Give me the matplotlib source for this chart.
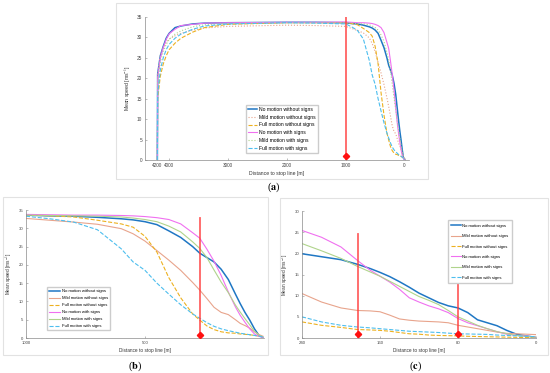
import numpy as np
import matplotlib
matplotlib.use('Agg')
import matplotlib.pyplot as plt
from matplotlib.patches import Rectangle

plt.rcParams['font.family'] = ['Liberation Sans', 'DejaVu Sans']
plt.rcParams['mathtext.fontset'] = 'stix'

# series names and styles
names = ['No motion without signs', 'Mild motion without signs', 'Full motion without signs',
         'No motion with signs', 'Mild motion with signs', 'Full motion with signs']
colors = ['#1f77c4', '#e8a48c', '#edb120', '#f070f0', '#b0d48c', '#4dbeee']

# (a) approach part, 4200 m -> 1500 m
a_dist = [4200, 4195, 4150, 4100, 4050, 4000, 3900, 3800, 3600, 3400, 3000, 2000, 1500]
a_blue = [0, 21, 25.5, 27.8, 29.8, 31.0, 32.4, 32.8, 33.3, 33.5, 33.6, 33.7, 33.7]
a_salmon = [0, 21, 25.5, 27.5, 28.7, 29.6, 30.4, 31.0, 31.8, 32.3, 32.7, 33.0, 32.9]
a_yellow = [0, 15, 20.5, 23.5, 25.5, 27.0, 28.6, 29.8, 31.3, 32.4, 33.2, 33.6, 33.6]
a_magenta = [0, 20, 25.0, 27.5, 29.5, 30.9, 32.0, 32.9, 33.2, 33.5, 33.6, 33.7, 33.7]
a_green = [0, 19, 24.0, 26.5, 28.3, 29.5, 30.8, 31.6, 32.6, 33.1, 33.4, 33.6, 33.6]
a_cyan = [0, 16, 22.0, 25.0, 27.0, 28.3, 29.8, 30.8, 32.0, 32.8, 33.3, 33.6, 33.5]

# (b) last 1000 m
b_dist = [1000, 900, 800, 700, 600, 550, 500, 450, 400, 350, 300, 270, 240, 210, 180,
          150, 120, 100, 80, 60, 40, 20, 5]
b_blue = [33.6, 33.4, 33.3, 33.0, 32.6, 32.3, 31.8, 31.0, 29.3, 27.5, 25.0, 23.2, 22.0, 20.8,
          18.8, 16.0, 12.0, 9.4, 7.0, 4.9, 2.5, 0.6, 0.2]
b_salmon = [32.7, 32.2, 31.7, 31.1, 29.9, 28.5, 26.5, 23.9, 21.3, 18.5, 15.2, 13.1, 10.8, 8.4,
            7.0, 6.4, 5.0, 4.0, 3.4, 2.7, 1.7, 0.9, 0.5]
b_yellow = [33.6, 33.4, 33.1, 32.2, 31.2, 30.3, 27.8, 23.5, 16.5, 11.0, 6.6, 4.9, 3.3, 2.3,
            1.7, 1.4, 1.3, 1.1, 1.0, 0.9, 0.7, 0.5, 0.3]
b_magenta = [33.8, 33.7, 33.6, 33.6, 33.5, 33.4, 33.2, 32.9, 32.4, 31.2, 28.8, 27.3, 24.3, 21.0,
             17.1, 12.6, 8.5, 6.2, 4.3, 2.5, 1.1, 0.4, 0.2]
b_green = [33.6, 33.5, 33.4, 33.3, 33.1, 32.8, 32.4, 31.8, 30.6, 29.0, 26.3, 24.5, 22.0, 18.6,
           15.3, 12.4, 9.0, 7.1, 5.3, 3.6, 1.8, 0.7, 0.3]
b_cyan = [33.3, 32.6, 31.7, 29.6, 24.4, 20.8, 18.5, 15.0, 12.0, 9.1, 6.6, 5.4, 4.2, 3.2,
          2.5, 2.0, 1.6, 1.3, 1.1, 0.9, 0.7, 0.5, 0.3]

# (c) last 240 m
c_dist = [240, 220, 200, 183, 170, 160, 150, 140, 130, 120, 110, 100, 90, 80, 70, 60,
          50, 40, 30, 20, 10, 0]
c_blue = [19.9, 19.2, 18.5, 17.4, 16.4, 15.5, 14.5, 13.3, 12.0, 10.6, 9.5, 8.4, 7.6, 7.1,
          6.0, 4.3, 3.6, 2.9, 1.8, 0.9, 0.5, 0.1]
c_salmon = [10.5, 8.5, 7.1, 6.5, 6.4, 6.2, 5.4, 4.5, 4.2, 4.0, 3.9, 3.8, 3.6, 3.0,
            2.6, 2.2, 1.8, 1.4, 1.1, 1.0, 0.9, 0.8]
c_yellow = [3.8, 3.0, 2.5, 2.0, 1.9, 1.8, 1.6, 1.3, 1.0, 0.9, 0.7, 0.6, 0.55, 0.5,
            0.4, 0.35, 0.3, 0.25, 0.2, 0.15, 0.1, 0.1]
c_magenta = [25.4, 23.8, 21.5, 18.3, 16.0, 14.6, 13.2, 11.5, 9.5, 8.5, 7.6, 6.9, 6.0, 4.6,
             3.6, 2.9, 2.2, 1.5, 0.9, 0.6, 0.5, 0.2]
c_green = [22.3, 20.6, 18.8, 16.9, 15.6, 14.6, 13.4, 12.2, 11.0, 9.8, 8.9, 7.9, 6.5, 5.0,
           4.0, 3.0, 2.2, 1.5, 1.0, 0.6, 0.4, 0.2]
c_cyan = [5.0, 3.8, 3.0, 2.6, 2.4, 2.2, 2.0, 1.8, 1.6, 1.5, 1.4, 1.3, 1.15, 1.0,
          0.95, 0.9, 0.85, 0.7, 0.6, 0.5, 0.4, 0.3]

# red markers (distance, line top)
a_marks = [(1000, 35.2)]
b_marks = [(270, 32.8)]
c_marks = [(183, 24.5), (80, 15.6)]

W, H = 550, 373
fig = plt.figure(figsize=(W / 100, H / 100), dpi=100)


def box(x0, y0, x1, y1):
    return [x0 / W, 1 - y1 / H, (x1 - x0) / W, (y1 - y0) / H]


# light frames round each panel
for (x0, y0, x1, y1) in [(116, 3, 428, 179), (3, 197, 268, 355), (280, 198, 548, 355)]:
    fig.patches.append(Rectangle((x0 / W, 1 - y1 / H), (x1 - x0) / W, (y1 - y0) / H,
                                 transform=fig.transFigure, fill=False,
                                 edgecolor='#e2e2e2', lw=0.8))


def style(ax, fs):
    for s in ['top', 'right']:
        ax.spines[s].set_visible(False)
    for s in ['left', 'bottom']:
        ax.spines[s].set_color('#8a8a8a')
        ax.spines[s].set_linewidth(0.5)
    ax.tick_params(direction='in', length=1.5, width=0.4, labelsize=fs - 0.3,
                   colors='#8a8a8a', labelcolor='#444444', pad=2)
    ax.set_xlabel('Distance to stop line [m]', fontsize=fs, color='#333333', labelpad=2)
    ax.set_ylabel('Mean speed [ms$^{-1}$]', fontsize=fs, color='#333333', labelpad=3)


def draw(ax, dist, series, styles, marks):
    for i, y in enumerate(series):
        lw = 1.1 if i == 0 else 0.8
        ax.plot(dist, y, color=colors[i], ls=styles[i], lw=lw, label=names[i])
    for (d, top) in marks:
        ax.plot([d, d], [0, top], color='#ff3b3b', lw=1.3, alpha=0.8, zorder=5)
        ax.plot(d, 0.9, marker='D', color='#ff1010', ms=3.2, zorder=6)


# panel (a)
ax1 = fig.add_axes(box(145, 17, 408.7, 160))
full_series = [a_blue + b_blue, a_salmon + b_salmon, a_yellow + b_yellow,
               a_magenta + b_magenta, a_green + b_green, a_cyan + b_cyan]
draw(ax1, a_dist + b_dist, full_series, ['-', ':', '--', '-', ':', '--'], a_marks)
ax1.set_xlim(4410, -70)
ax1.set_ylim(0, 35)
ax1.set_xticks([4200, 4000, 3000, 2000, 1000, 0])
ax1.set_yticks(range(0, 36, 5))
style(ax1, 3.7)
ax1.legend(loc='lower left', bbox_to_anchor=(0.383, 0.05), fontsize=3.6, frameon=True,
           fancybox=False, edgecolor='#cccccc', framealpha=1, handlelength=1.8,
           labelspacing=0.55, borderpad=0.45, handletextpad=0.3, borderaxespad=0)

# panel (b)
ax2 = fig.add_axes(box(26, 210, 264, 338))
draw(ax2, b_dist, [b_blue, b_salmon, b_yellow, b_magenta, b_green, b_cyan],
     ['-', '-', '--', '-', '-', '--'], b_marks)
ax2.set_xlim(1000, 0)
ax2.set_ylim(0, 35)
ax2.set_xticks([1000, 500])
ax2.set_yticks(range(0, 36, 5))
style(ax2, 3.4)
ax2.legend(loc='lower left', bbox_to_anchor=(0.088, 0.06), fontsize=3.1, frameon=True,
           fancybox=False, edgecolor='#cccccc', framealpha=1, handlelength=2.6,
           labelspacing=0.7, borderpad=0.5, handletextpad=0.3, borderaxespad=0)

# panel (c)
ax3 = fig.add_axes(box(302, 211, 536, 338))
draw(ax3, c_dist, [c_blue, c_salmon, c_yellow, c_magenta, c_green, c_cyan],
     ['-', '-', '--', '-', '-', '--'], c_marks)
ax3.set_xlim(240, 0)
ax3.set_ylim(0, 30)
ax3.set_xticks([240, 160, 80, 0])
ax3.set_yticks(range(0, 31, 5))
style(ax3, 3.4)
ax3.legend(loc='lower left', bbox_to_anchor=(0.624, 0.43), fontsize=3.1, frameon=True,
           fancybox=False, edgecolor='#cccccc', framealpha=1, handlelength=2.2,
           labelspacing=1.5, borderpad=0.8, handletextpad=0.3, borderaxespad=0)

# panel captions: plain brackets, bold letter
for (x, y, t) in [(274, 187, 'a'), (135, 366, 'b'), (415, 366, 'c')]:
    fig.text(x / W, 1 - y / H, '($\\mathbf{' + t + '}$)', ha='center', va='center',
             fontsize=7.5, family='Liberation Serif')

fig.savefig('out.png', dpi=100, facecolor='white')
